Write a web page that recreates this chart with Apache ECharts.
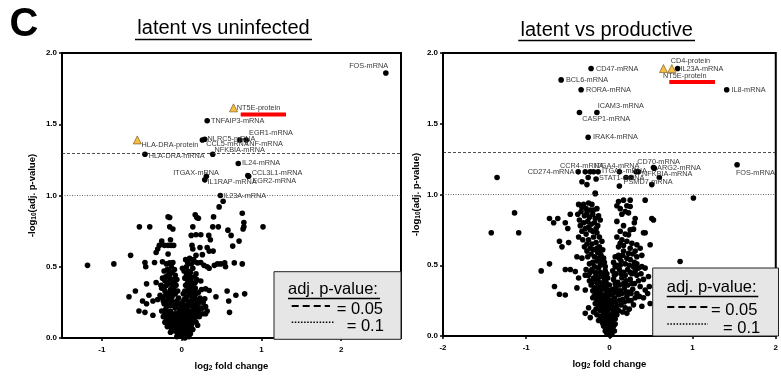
<!DOCTYPE html>
<html>
<head>
<meta charset="utf-8">
<script src="https://cdn.jsdelivr.net/npm/echarts@6/dist/echarts.min.js"></script>
<style>
  html, body { margin: 0; padding: 0; background: #fff; }
  #chart { width: 781px; height: 377px; }
</style>
</head>
<body>
<div id="chart"></div>
<script>
// ---- data ----
// left panel: latent vs uninfected
const leftCloud = [
  [-1.18,0.51],[-0.85,0.52],[-0.64,0.58],[-0.53,0.78],[-0.40,0.78],
  [-0.17,0.85],[-0.15,0.846],[-0.15,0.78],[-0.11,0.765],
  [0.17,0.865],[0.19,0.846],[0.21,0.84],[0.40,0.85],[0.47,0.92],[0.52,0.96],
  [0.14,0.78],[0.39,0.78],[0.46,0.78],[0.58,0.757],[0.62,0.72],
  [0.76,0.875],[0.78,0.81],[0.78,0.78],[0.77,0.765],[1.02,0.78],
  [0.12,0.72],[0.18,0.725],[0.24,0.725],[0.34,0.72],[0.36,0.69],
  [-0.14,0.69],[-0.25,0.68],[-0.28,0.65],[-0.30,0.625],[-0.32,0.60],
  [-0.215,0.65],[-0.17,0.65],[-0.13,0.65],[-0.10,0.65],[-0.17,0.59],
  [0.13,0.65],[0.14,0.625],[0.23,0.635],[0.32,0.635],[0.345,0.61],[0.395,0.61],
  [0.18,0.58],[0.26,0.585],[0.64,0.645],[0.72,0.68],
  [-0.46,0.53],[-0.45,0.50],[-0.34,0.53],[-0.24,0.535],[-0.19,0.52],[-0.15,0.527],[-0.11,0.53],[-0.13,0.50],[-0.15,0.45],[-0.17,0.44],
  [0.075,0.53],[0.12,0.52],[0.16,0.535],[0.20,0.527],[0.24,0.53],[0.28,0.51],[0.32,0.50],[0.345,0.49],[0.41,0.51],[0.45,0.52],[0.49,0.52],[0.54,0.527],[0.55,0.50],[0.66,0.527],[0.76,0.52],
  [0.10,0.56],[0.15,0.55],[0.06,0.50],[0.08,0.47],[0.14,0.49],[0.05,0.55],
  [-0.44,0.38],[-0.32,0.39],[-0.26,0.37],[-0.215,0.36],[-0.17,0.39],[-0.13,0.38],[-0.09,0.39],[-0.07,0.37],
  [-0.58,0.33],[-0.66,0.29],[-0.41,0.30],[-0.49,0.26],[-0.44,0.24],[-0.535,0.19],[-0.46,0.18],[-0.36,0.16],
  [0.30,0.345],[0.345,0.333],[0.43,0.29],[0.57,0.33],[0.68,0.30],[0.79,0.31],[0.59,0.26],[0.60,0.18],
  [0.32,0.19],[0.30,0.17],[0.22,0.15],[0.18,0.11],[0.30,0.22],
  [0.10,0.43],[0.18,0.45],[0.24,0.40],
  [-0.22,0.47],[-0.20,0.43],[-0.18,0.48],[-0.12,0.46],[-0.08,0.44],[-0.06,0.41],[-0.24,0.42],[-0.21,0.33],[-0.17,0.31],[-0.14,0.34],
  [-0.10,0.35],[-0.05,0.33],[-0.27,0.30],[-0.30,0.27],[-0.24,0.28],[-0.19,0.26],[-0.12,0.29],[-0.08,0.31],[-0.04,0.28],[-0.36,0.26],
  [0.03,0.47],[0.06,0.44],[0.09,0.40],[0.12,0.42],[0.15,0.38],[0.19,0.41],[0.05,0.37],[0.08,0.34],[0.11,0.36],[0.14,0.33],
  [0.17,0.35],[0.21,0.32],[0.25,0.34],[0.02,0.31],[0.06,0.29],[0.10,0.30],[0.13,0.27],[0.16,0.29],[0.20,0.26],[0.23,0.28],
  [0.27,0.25],[0.29,0.275],[0.26,0.21],
  [-0.22,0.24],[-0.16,0.23],[-0.10,0.25],[-0.04,0.24],[0.01,0.25],[0.05,0.23],[0.09,0.24],[0.14,0.22],[0.18,0.24],[0.24,0.21],
  [-0.25,0.19],[-0.20,0.20],[-0.14,0.19],[-0.08,0.21],[-0.02,0.20],[0.03,0.19],[0.07,0.21],[0.12,0.19],[0.16,0.20],[0.21,0.18],[0.26,0.17],
  [-0.23,0.15],[-0.18,0.16],[-0.12,0.15],[-0.06,0.17],[0.00,0.16],[0.05,0.15],[0.10,0.16],[0.14,0.14],[0.19,0.15],
  [-0.21,0.11],[-0.16,0.12],[-0.11,0.11],[-0.06,0.13],[-0.01,0.12],[0.04,0.11],[0.08,0.12],[0.12,0.10],[0.16,0.12],[0.20,0.09],
  [-0.18,0.08],[-0.13,0.07],[-0.08,0.09],[-0.03,0.08],[0.02,0.07],[0.06,0.09],[0.10,0.07],[0.14,0.06],
  [-0.14,0.04],[-0.09,0.05],[-0.05,0.03],[-0.01,0.045],[0.03,0.035],[0.07,0.05],[0.11,0.03],
  [-0.06,0.01],[-0.02,0.015],[0.02,0.01],[0.05,0.02],[0.09,0.01],
  [-0.19,0.22],[-0.13,0.23],[-0.07,0.22],[0.00,0.22],[0.04,0.21],[0.11,0.23],[0.16,0.22],[0.20,0.215],
  [-0.21,0.17],[-0.15,0.18],[-0.09,0.17],[-0.03,0.18],[0.02,0.17],[0.07,0.18],[0.12,0.17],[0.17,0.17],
  [-0.19,0.13],[-0.14,0.135],[-0.09,0.14],[-0.04,0.145],[0.01,0.14],[0.06,0.13],[0.11,0.135],[0.15,0.13],
  [-0.16,0.095],[-0.11,0.09],[-0.06,0.10],[-0.01,0.095],[0.04,0.09],[0.08,0.095],[0.12,0.085],
  [-0.11,0.06],[-0.07,0.065],[-0.02,0.06],[0.03,0.055],[0.08,0.065],
  [-0.04,0.02],[0.00,0.03],[0.04,0.00],
  [-0.23,0.26],[-0.17,0.28],[-0.13,0.26],[-0.06,0.26],[0.03,0.27],[0.08,0.26],[0.12,0.25],[0.18,0.27],[0.22,0.25],
  [-0.20,0.30],[-0.15,0.32],[-0.11,0.32],[0.04,0.33],[0.09,0.32],[0.12,0.31],[0.18,0.31],
  [-0.25,0.35],[-0.19,0.37],[-0.12,0.36],[0.07,0.38],[0.12,0.39],[0.17,0.39],
  [-0.21,0.40],[-0.15,0.42],[-0.10,0.41],[0.04,0.42],[0.07,0.41],[0.16,0.43],
  [-0.16,0.47],[-0.09,0.48],[0.01,0.49],[0.11,0.46]
];
const leftGenes = [
  ['FOS-mRNA',2.56,1.86],['TNFAIP3-mRNA',0.32,1.525],['CCL5-mRNA',0.26,1.39],['NLRC5-mRNA',0.29,1.395],
  ['TNF-mRNA',0.73,1.39],['EGR1-mRNA',0.81,1.39],['HLA-DRA-mRNA',-0.46,1.29],['NFKBIA-mRNA',0.39,1.29],
  ['IL24-mRNA',0.71,1.225],['CCL3L1-mRNA',0.83,1.14],['EGR2-mRNA',0.84,1.135],['ITGAX-mRNA',0.31,1.135],
  ['IL1RAP-mRNA',0.29,1.11],['IL23A-mRNA',0.485,1.0]
];
const leftProteins = [['NT5E-protein',0.65,1.615],['HLA-DRA-protein',-0.556,1.39]];
const leftXTicks = [-1, 0, 1, 2];

// right panel: latent vs productive
const rightCloud = [
  [-1.35,1.12],[-0.29,1.16],[-0.255,1.12],[-0.33,1.09],[-0.27,1.07],[-0.17,1.01],
  [0.12,1.16],[0.20,1.12],[0.26,1.12],[0.32,1.16],[0.35,1.16],[0.12,1.06],[1.01,0.975],
  [-1.42,0.73],[-1.14,0.87],[-1.09,0.73],[-0.17,1.005],
  [-0.72,0.83],[-0.67,0.80],[-0.62,0.83],[-0.53,0.80],[-0.47,0.86],[-0.50,0.76],
  [-0.60,0.67],[-0.57,0.63],[-0.49,0.66],
  [-0.37,0.93],[-0.31,0.93],[-0.25,0.94],[-0.21,0.93],[-0.15,0.90],
  [-0.72,0.51],[-0.82,0.46],[-0.53,0.47],[-0.47,0.47],[-0.41,0.455],[-0.37,0.41],[-0.29,0.43],[-0.25,0.43],[-0.39,0.56],[-0.33,0.55],
  [-0.66,0.35],[-0.60,0.295],[-0.53,0.29],[-0.39,0.34],[-0.29,0.325],[-0.25,0.20],[-0.29,0.16],[-0.23,0.13],
  [-0.37,0.70],
  [-0.38,0.86],[-0.34,0.88],[-0.30,0.85],[-0.27,0.87],[-0.24,0.84],[-0.20,0.86],[-0.17,0.83],[-0.13,0.85],
  [-0.36,0.82],[-0.31,0.80],[-0.26,0.81],[-0.22,0.79],[-0.18,0.80],[-0.14,0.78],[-0.11,0.82],
  [-0.33,0.74],[-0.28,0.72],[-0.23,0.75],[-0.19,0.70],[-0.15,0.73],[-0.12,0.70],[-0.25,0.68],[-0.21,0.65],
  [-0.16,0.66],[-0.12,0.63],[-0.09,0.67],[-0.30,0.63],[-0.27,0.60],
  [-0.22,0.58],[-0.18,0.56],[-0.14,0.59],[-0.10,0.57],[-0.07,0.55],[-0.20,0.52],[-0.15,0.53],[-0.11,0.50],[-0.06,0.52],
  [-0.21,0.47],[-0.17,0.45],[-0.13,0.48],[-0.09,0.44],[-0.05,0.46],[-0.19,0.41],[-0.14,0.40],[-0.10,0.42],[-0.06,0.39],[-0.02,0.41],
  [-0.22,0.36],[-0.18,0.34],[-0.14,0.37],[-0.10,0.33],[-0.06,0.35],[-0.02,0.32],[-0.16,0.30],[-0.12,0.31],[-0.08,0.29],[-0.04,0.30],
  [-0.20,0.27],[-0.15,0.25],[-0.11,0.27],[-0.07,0.24],[-0.03,0.26],[0.01,0.25],[-0.13,0.21],[-0.09,0.22],[-0.05,0.20],[-0.01,0.21],
  [-0.19,0.17],[-0.15,0.15],[-0.11,0.18],[-0.07,0.16],[-0.03,0.17],[0.01,0.15],[0.05,0.17],
  [-0.13,0.11],[-0.09,0.12],[-0.05,0.10],[-0.01,0.12],[0.03,0.11],[0.07,0.12],
  [-0.07,0.07],[-0.04,0.05],[-0.01,0.08],[0.02,0.06],[0.05,0.07],[-0.03,0.02],[0.00,0.03],[0.03,0.015],[0.01,0.005],[-0.05,0.035],[0.06,0.035],
  [0.11,0.95],[0.17,0.96],[0.25,0.96],[0.25,0.915],[0.43,0.96],
  [0.19,0.88],[0.15,0.86],[0.23,0.87],[0.09,0.81],[0.31,0.83],[0.51,0.83],[0.53,0.82],[0.30,0.80],[0.43,0.73],[0.25,0.75],
  [0.29,0.755],[0.41,0.73],[0.23,0.715],
  [0.15,0.68],[0.13,0.655],[0.11,0.63],[0.21,0.67],[0.27,0.655],[0.33,0.645],[0.49,0.645],
  [0.17,0.60],[0.11,0.57],[0.23,0.585],[0.33,0.56],[0.39,0.57],[0.85,0.526],
  [0.25,0.54],[0.33,0.51],[0.39,0.49],[0.43,0.48],
  [0.05,0.52],[0.09,0.50],[0.14,0.53],[0.19,0.51],[0.04,0.46],[0.08,0.44],[0.12,0.47],[0.17,0.45],[0.22,0.47],[0.27,0.44],[0.31,0.46],
  [0.05,0.40],[0.10,0.38],[0.15,0.41],[0.20,0.39],[0.25,0.40],[0.30,0.37],[0.35,0.39],
  [0.04,0.33],[0.08,0.35],[0.13,0.32],[0.18,0.34],[0.23,0.31],[0.28,0.33],[0.33,0.30],
  [0.06,0.27],[0.11,0.29],[0.16,0.26],[0.21,0.28],[0.26,0.25],[0.31,0.27],
  [0.09,0.21],[0.14,0.22],[0.19,0.20],[0.24,0.19],
  [0.41,0.40],[0.43,0.325],[0.41,0.27],[0.39,0.21],[0.47,0.42],[0.48,0.35],[0.46,0.30],[0.49,0.23],
  [-0.23,0.45],[-0.16,0.43],[-0.11,0.45],[-0.07,0.42],[-0.03,0.44],
  [-0.24,0.39],[-0.20,0.38],[-0.16,0.39],[-0.12,0.38],[-0.08,0.37],[-0.04,0.38],[0.00,0.36],
  [-0.20,0.32],[-0.16,0.33],[-0.12,0.345],[-0.08,0.33],[-0.04,0.34],[0.00,0.32],
  [-0.18,0.285],[-0.14,0.28],[-0.10,0.29],[-0.06,0.27],[-0.02,0.28],[0.02,0.29],
  [-0.17,0.23],[-0.13,0.24],[-0.09,0.25],[-0.05,0.23],[-0.01,0.24],[0.03,0.22],[0.05,0.25],
  [-0.16,0.19],[-0.12,0.20],[-0.08,0.19],[-0.04,0.18],[0.00,0.19],[0.04,0.20],[0.07,0.18],
  [-0.11,0.14],[-0.07,0.13],[-0.03,0.14],[0.01,0.13],[0.05,0.14],[0.09,0.15],
  [-0.08,0.09],[-0.04,0.09],[0.00,0.10],[0.04,0.09],[0.07,0.085],
  [-0.02,0.045],[0.02,0.035],[0.04,0.05],[-0.01,0.015],
  [-0.26,0.56],[-0.24,0.51],[-0.18,0.49],[-0.13,0.55],[-0.09,0.52],[-0.05,0.49],[-0.28,0.47],
  [-0.35,0.78],[-0.29,0.76],[-0.25,0.77],[-0.20,0.74],[-0.16,0.76],[-0.32,0.68],[-0.27,0.65],[-0.23,0.62],
  [-0.19,0.61],[-0.15,0.62],[-0.11,0.60],[-0.08,0.61],
  [-0.33,0.91],[-0.28,0.90],[-0.23,0.89],[-0.19,0.89],
  [0.07,0.56],[0.12,0.55],[0.16,0.57],[0.21,0.55],[0.28,0.58],[0.30,0.52],
  [0.07,0.49],[0.13,0.50],[0.24,0.50],[0.29,0.49],[0.35,0.48],
  [0.06,0.43],[0.14,0.44],[0.19,0.43],[0.25,0.45],[0.33,0.43],[0.38,0.44],
  [0.07,0.37],[0.12,0.36],[0.17,0.37],[0.22,0.36],[0.27,0.37],[0.37,0.35],
  [0.06,0.31],[0.10,0.32],[0.15,0.30],[0.20,0.31],[0.26,0.30],[0.36,0.28],
  [0.08,0.24],[0.12,0.25],[0.18,0.24],[0.23,0.25],[0.29,0.22],
  [0.11,0.18],[0.16,0.17],[0.21,0.16],
  [0.09,0.92],[0.13,0.90],[0.21,0.92],[0.17,0.78],[0.13,0.74],[0.19,0.72],[0.09,0.70],[0.17,0.64],[0.25,0.62],[0.31,0.60],[0.37,0.62]
];
const rightGenes = [
  ['CD47-mRNA',-0.22,1.89],['BCL6-mRNA',-0.58,1.81],['RORA-mRNA',-0.34,1.74],['ICAM3-mRNA',-0.15,1.58],
  ['CASP1-mRNA',-0.36,1.58],['IRAK4-mRNA',-0.255,1.405],['IL23A-mRNA',0.82,1.89],['IL8-mRNA',1.41,1.74],
  ['FOS-mRNA',1.535,1.21],['CD274-mRNA',-0.375,1.16],['CCR4-mRNA',-0.23,1.16],['ITGA4-mRNA',-0.19,1.16],
  ['ITGAL-mRNA',-0.135,1.16],['STAT1-mRNA',-0.16,1.11],['CD70-mRNA',0.53,1.19],['ARG2-mRNA',0.54,1.185],
  ['NFKBIA-mRNA',0.60,1.12],['PSMD7-mRNA',0.51,1.07]
];
const rightProteins = [['CD4-protein',0.65,1.89],['NT5E-protein',0.75,1.89]];
const cutoffs = [1.301, 1.0]; // -log10(0.05), -log10(0.1)

// label placement [position, dx, dy]
const leftPlace = {
  'FOS-mRNA': ['left', 7, -7], 'TNFAIP3-mRNA': ['right', -1, 0], 'CCL5-mRNA': ['right', -1, 4],
  'NLRC5-mRNA': ['right', -2, 0], 'TNF-mRNA': ['right', 0, 4], 'EGR1-mRNA': ['right', -2, -7],
  'HLA-DRA-mRNA': ['right', -1, 2], 'NFKBIA-mRNA': ['right', -3, -4], 'IL24-mRNA': ['right', -1, 0],
  'CCL3L1-mRNA': ['right', -1, -3], 'EGR2-mRNA': ['right', -1, 5], 'ITGAX-mRNA': ['right', -38, -3],
  'IL1RAP-mRNA': ['right', -2, 2], 'IL23A-mRNA': ['right', -2, 0],
  'NT5E-protein': ['right', -3, 0], 'HLA-DRA-protein': ['right', -2, 5]
};
const rightPlace = {
  'CD47-mRNA': ['right', 0, 0], 'BCL6-mRNA': ['right', 0, 0], 'RORA-mRNA': ['right', 0, 0],
  'ICAM3-mRNA': ['right', -4, -6], 'CASP1-mRNA': ['right', -2, 7], 'IRAK4-mRNA': ['right', 0, 0],
  'IL23A-mRNA': ['right', -2, 0], 'IL8-mRNA': ['right', 0, 0], 'FOS-mRNA': ['right', -6, 8],
  'CD274-mRNA': ['left', 1, 0], 'CCR4-mRNA': ['right', -35, -6], 'ITGA4-mRNA': ['right', -4, -6],
  'ITGAL-mRNA': ['right', -1, -1], 'STAT1-mRNA': ['right', -2, -1], 'CD70-mRNA': ['right', -21, -6],
  'ARG2-mRNA': ['right', -2, 0], 'NFKBIA-mRNA': ['right', -22, -4], 'PSMD7-mRNA': ['right', -33, -3],
  'CD4-protein': ['right', 1, -8], 'NT5E-protein': ['right', -15, 7]
};

const FONT = "'Liberation Sans', Arial, Helvetica, sans-serif";
const DOT = 5.6;
const myChart = echarts.init(document.getElementById('chart'));

function labeled(list, place) {
  return list.map(g => {
    const p = place[g[0]] || ['right', 0, 0];
    return {
      name: g[0],
      value: [g[1], g[2]],
      label: { position: p[0], offset: [p[1], p[2]] }
    };
  });
}

const labelStyle = {
  show: true, formatter: '{b}', distance: 2,
  fontSize: 7.3, color: '#3a3a3a', fontFamily: FONT
};

const subRich = { s: { fontFamily: FONT, fontWeight: 'bold', fontSize: 6.5, verticalAlign: 'bottom', padding: [5, 0, 0, 0] } };

function xAxisOf(idx, min, max, ticks) {
  return {
    gridIndex: idx, type: 'value', min: min, max: max,
    interval: ticks ? undefined : 1,
    name: 'log{s|2} fold change', nameLocation: 'middle', nameGap: 22,
    nameTextStyle: { fontFamily: FONT, fontWeight: 'bold', fontSize: 9.5, color: '#000', rich: subRich },
    axisLine: { onZero: false, lineStyle: { color: '#000', width: 2 } },
    axisTick: { length: 3, lineStyle: { color: '#000', width: 1.5 }, customValues: ticks },
    axisLabel: { fontFamily: FONT, fontWeight: 'bold', fontSize: 8, color: '#000', margin: 8, customValues: ticks },
    splitLine: { show: false }
  };
}

function yAxisOf(idx, gap) {
  return {
    gridIndex: idx, type: 'value', min: 0, max: 2, interval: 0.5,
    name: '-log{s|10}(adj. p-value)', nameLocation: 'middle', nameGap: gap,
    nameTextStyle: { fontFamily: FONT, fontWeight: 'bold', fontSize: 9.5, color: '#000', rich: subRich },
    axisLine: { onZero: false, lineStyle: { color: '#000', width: 2 } },
    axisTick: { length: 3, lineStyle: { color: '#000', width: 1.5 } },
    axisLabel: { fontFamily: FONT, fontWeight: 'bold', fontSize: 8, color: '#000', margin: 5,
      formatter: v => v.toFixed(1) },
    splitLine: { show: false }
  };
}

const cutLines = {
  silent: true, symbol: 'none', label: { show: false },
  data: [
    { yAxis: cutoffs[0], lineStyle: { type: [3, 2], width: 0.8, color: '#222' } },
    { yAxis: cutoffs[1], lineStyle: { type: [1, 1.5], width: 0.8, color: '#444' } }
  ]
};

function cloud(idx, data) {
  return { type: 'scatter', xAxisIndex: idx, yAxisIndex: idx, data: data, symbolSize: DOT,
    itemStyle: { color: '#000', opacity: 1 }, silent: true, markLine: cutLines };
}
function genes(idx, list, place) {
  return { type: 'scatter', xAxisIndex: idx, yAxisIndex: idx, data: labeled(list, place), symbolSize: DOT,
    itemStyle: { color: '#000', opacity: 1 }, silent: true, label: labelStyle };
}
function proteins(idx, list, place) {
  return { type: 'scatter', xAxisIndex: idx, yAxisIndex: idx, data: labeled(list, place), symbol: 'triangle',
    symbolSize: 8, itemStyle: { color: '#f7bd45', borderColor: '#6b4a00', borderWidth: 0.6, opacity: 1 },
    silent: true, label: labelStyle, z: 3 };
}

// legend box drawn with graphic
function keyBox(x0, y0, x1, y1, t) {
  return [
    { type: 'rect', z: 100, shape: { x: x0, y: y0, width: x1 - x0, height: y1 - y0 },
      style: { fill: '#e6e6e6', stroke: '#222', lineWidth: 1 } },
    { type: 'text', z: 101, style: { text: 'adj. p-value:', x: t.tx, y: t.ty, fontFamily: FONT, fontSize: 16.5,
      fill: '#000', verticalAlign: 'middle' } },
    { type: 'line', z: 101, shape: { x1: t.tx, y1: t.uy, x2: t.ux2, y2: t.uy }, style: { stroke: '#000', lineWidth: 1.3 } },
    { type: 'line', z: 101, shape: { x1: t.lx, y1: t.dy, x2: t.dx2, y2: t.dy },
      style: { stroke: '#000', lineWidth: 2, lineDash: [7, 4] } },
    { type: 'text', z: 101, style: { text: '= 0.05', x: t.ex1, y: t.dy + 3, fontFamily: FONT, fontSize: 16.5,
      fill: '#000', verticalAlign: 'middle' } },
    { type: 'line', z: 101, shape: { x1: t.lx, y1: t.oy, x2: t.ox2, y2: t.oy },
      style: { stroke: '#000', lineWidth: 1.5, lineDash: [1.5, 1.6] } },
    { type: 'text', z: 101, style: { text: '= 0.1', x: t.ex2, y: t.oy + 4, fontFamily: FONT, fontSize: 16.5,
      fill: '#000', verticalAlign: 'middle' } }
  ];
}

function title(text, cx, cy, x1, x2, uy) {
  return [
    { type: 'text', z: 100, style: { text: text, x: cx, y: cy, align: 'center', verticalAlign: 'middle',
      fontFamily: FONT, fontSize: 20, fill: '#000' } },
    { type: 'line', z: 100, shape: { x1: x1, y1: uy, x2: x2, y2: uy }, style: { stroke: '#000', lineWidth: 1.5 } }
  ];
}

let option = {
  animation: false,
  backgroundColor: '#fff',
  grid: [
    { left: 62, right: 380, top: 53, bottom: 38, show: true, borderColor: '#000', borderWidth: 2 },
    { left: 443, right: 3, top: 53, bottom: 41, show: true, borderColor: '#000', borderWidth: 2 }
  ],
  xAxis: [xAxisOf(0, -1.5, 2.75, leftXTicks), xAxisOf(1, -2, 2, null)],
  yAxis: [yAxisOf(0, 24), yAxisOf(1, 21)],
  series: [
    cloud(0, leftCloud), genes(0, leftGenes, leftPlace), proteins(0, leftProteins, leftPlace),
    cloud(1, rightCloud), genes(1, rightGenes, rightPlace), proteins(1, rightProteins, rightPlace)
  ],
  graphic: [
    { type: 'text', z: 100, style: { text: 'C', x: 24, y: 25, align: 'center', verticalAlign: 'middle',
      fontFamily: FONT, fontWeight: 'bold', fontSize: 40, fill: '#000' } },
    ...title('latent vs uninfected', 223.5, 28, 135, 312, 39.5),
    ...title('latent vs productive', 606.7, 30, 518.3, 695, 40.5),
    // NT5E highlight bars
    { type: 'rect', z: 100, shape: { x: 240.7, y: 112.5, width: 45.3, height: 4 }, style: { fill: '#ff0000' } },
    { type: 'rect', z: 100, shape: { x: 669.3, y: 80, width: 45.7, height: 4 }, style: { fill: '#ff0000' } },
    ...keyBox(274, 271.7, 401, 339.3, { tx: 288, ty: 289.5, uy: 298.5, ux2: 380, lx: 291.7, dy: 306, dx2: 330,
      ex1: 336.7, oy: 322.3, ox2: 335, ex2: 346.7 }),
    ...keyBox(652.7, 268, 778.5, 336, { tx: 666.7, ty: 287.5, uy: 296.5, ux2: 758.3, lx: 667.3, dy: 307, dx2: 709,
      ex1: 711, oy: 324, ox2: 708, ex2: 723 })
  ]
};
myChart.setOption(option);
</script>
</body>
</html>
